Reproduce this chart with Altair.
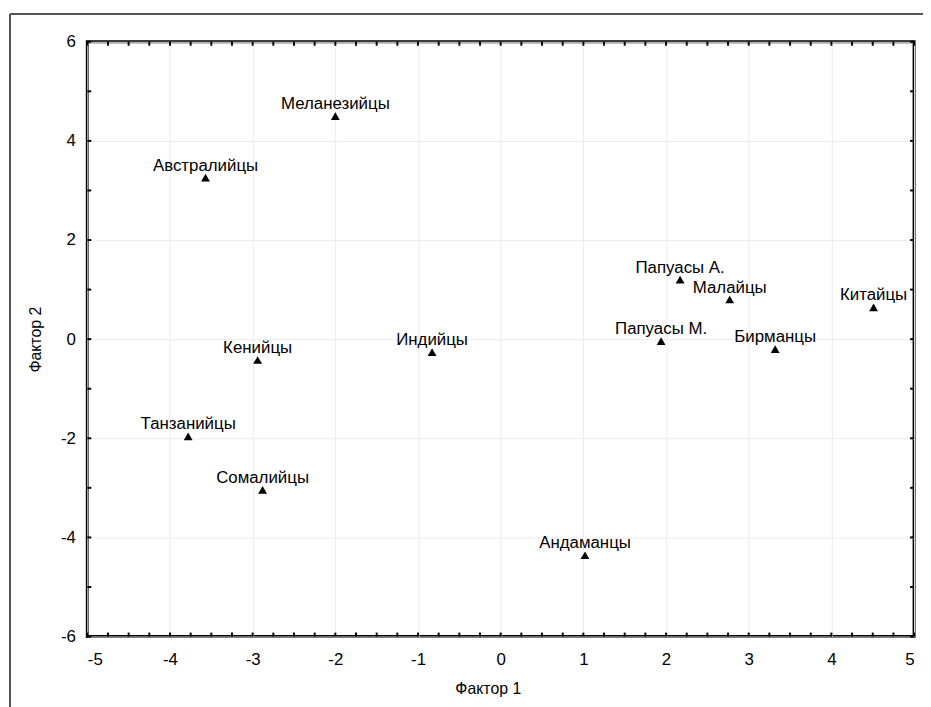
import altair as alt
import numpy as np
import pandas as pd

# Data
names = ["Меланезийцы", "Австралийцы", "Папуасы А.", "Малайцы", "Китайцы",
         "Папуасы М.", "Бирманцы", "Индийцы", "Кенийцы", "Танзанийцы",
         "Сомалийцы", "Андаманцы"]
factor1 = [-2.00, -3.57, 2.17, 2.77, 4.51, 1.94, 3.32, -0.83, -2.94, -3.78, -2.88, 1.02]
factor2 = [4.50, 3.26, 1.20, 0.80, 0.64, -0.04, -0.20, -0.26, -0.42, -1.96, -3.04, -4.36]

x_labels = list(range(-5, 6))
y_labels = list(range(-6, 7, 2))
x_ticks = [float(v) for v in np.arange(-5, 5.001, 0.25)]
y_ticks = [float(v) for v in np.arange(-6, 6.001, 1.0)]

df = pd.DataFrame({"name": names, "f1": factor1, "f2": factor2})
xt = pd.DataFrame({"v": x_ticks})
yt = pd.DataFrame({"v": y_ticks})

W, H = 834, 600
FONT = "Liberation Sans"
LABEL_EXPR = "datum.value < 0 ? '-' + abs(datum.value) : '' + datum.value"

xscale = alt.Scale(domain=[-5, 5], nice=False, zero=False)
yscale = alt.Scale(domain=[-6, 6], nice=False, zero=False)

base = alt.Chart(df).encode(
    x=alt.X("f1:Q", scale=xscale,
            axis=alt.Axis(title="Фактор 1", values=x_labels, labelExpr=LABEL_EXPR,
                          domain=False, ticks=False, labelPadding=15,
                          labelFontSize=17, labelFont=FONT, labelColor="black",
                          grid=True, gridColor="#ececec", gridWidth=1,
                          titleFont=FONT, titleFontSize=16, titleFontWeight="normal",
                          titleColor="black", titleX=404, titlePadding=13)),
    y=alt.Y("f2:Q", scale=yscale,
            axis=alt.Axis(title="Фактор 2", values=y_labels, labelExpr=LABEL_EXPR,
                          domain=False, ticks=False, labelPadding=12,
                          labelFontSize=17, labelFont=FONT, labelColor="black",
                          grid=True, gridColor="#ececec", gridWidth=1,
                          titleFont=FONT, titleFontSize=16, titleFontWeight="normal",
                          titleColor="black", titleX=-52, titleY=300,
                          titleAngle=-90, titleAlign="center", titleBaseline="middle")),
)

points = base.mark_point(shape="triangle-up", filled=True, color="black",
                         size=80, opacity=1)
labels = base.mark_text(font=FONT, fontSize=17, color="black", align="center",
                        baseline="alphabetic", dy=-7).encode(text="name:N")

tick_w = 2
TL = 4
bx = alt.Chart(xt).mark_rule(color="black", strokeWidth=tick_w).encode(
    x=alt.X("v:Q", scale=xscale), y=alt.value(H), y2=alt.value(H - TL))
tx = alt.Chart(xt).mark_rule(color="black", strokeWidth=tick_w).encode(
    x=alt.X("v:Q", scale=xscale), y=alt.value(0), y2=alt.value(TL))
ly = alt.Chart(yt).mark_rule(color="black", strokeWidth=tick_w).encode(
    y=alt.Y("v:Q", scale=yscale), x=alt.value(0), x2=alt.value(TL))
ry = alt.Chart(yt).mark_rule(color="black", strokeWidth=tick_w).encode(
    y=alt.Y("v:Q", scale=yscale), x=alt.value(W), x2=alt.value(W - TL))

border_top = alt.Chart(df).mark_rule(color="#555555", strokeWidth=1.5).encode(
    x=alt.value(-78), x2=alt.value(W + 20), y=alt.value(-28))
border_left = alt.Chart(df).mark_rule(color="#555555", strokeWidth=1.5).encode(
    x=alt.value(-78), y=alt.value(-28), y2=alt.value(H + 80))

chart = alt.layer(border_top, border_left, bx, tx, ly, ry, points, labels).properties(
    width=W, height=H,
    autosize=alt.AutoSizeParams(type="none"),
    padding={"left": 80, "top": 31, "right": 9, "bottom": 68},
    background="white",
).configure_view(stroke="black", strokeWidth=3)

chart.save("out.html", embed_options={"renderer": "svg", "actions": False})
